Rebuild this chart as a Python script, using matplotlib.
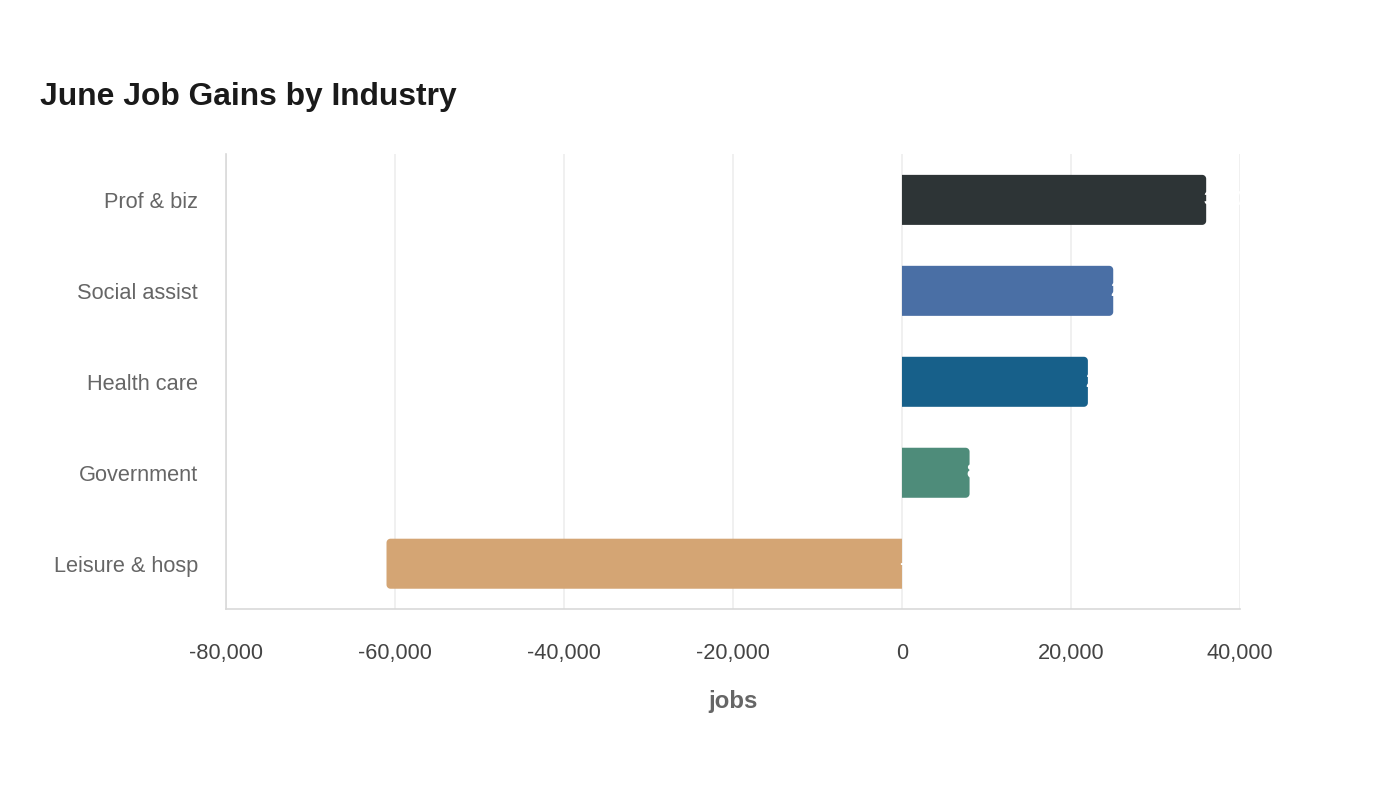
import matplotlib
matplotlib.use("Agg")
import numpy as np
import matplotlib.pyplot as plt
from matplotlib.patches import Polygon
from matplotlib.ticker import FuncFormatter

plt.rcParams['font.family'] = ['Liberation Sans', 'DejaVu Sans']

# 数据
industries = ["Prof & biz", "Social assist", "Health care", "Government", "Leisure & hosp"]
jobs = [36000, 25000, 22000, 8000, -61000]
colors = ["#2d3436", "#4a6fa5", "#17608a", "#4e8c7a", "#d4a574"]
x_ticks = [-80000, -60000, -40000, -20000, 0, 20000, 40000]

fig = plt.figure(figsize=(14, 8), dpi=100)
ax_pos = [0.1614, 0.2385, 0.7243, 0.5685]
ax = fig.add_axes(ax_pos)

ax.set_xlim(-80000, 40000)
ax.set_ylim(-0.5, len(industries) - 0.5)

# 像素 -> 数据单位 (圆角)
px_x = 120000 / (ax_pos[2] * 1400)
px_y = len(industries) / (ax_pos[3] * 800)
r = 4
bar_h = 0.55


def bar_shape(v, y):
    # 只在外端画圆角
    rx, ry = r * px_x, r * px_y
    y0, y1 = y - bar_h / 2, y + bar_h / 2
    t = np.linspace(0, np.pi / 2, 10)
    if v >= 0:
        cx = v - rx
        top = [(cx + rx * np.sin(a), y1 - ry + ry * np.cos(a)) for a in t]
        bot = [(cx + rx * np.cos(a), y0 + ry - ry * np.sin(a)) for a in t]
        return [(0, y0), (0, y1)] + top + bot
    cx = v + rx
    top = [(cx - rx * np.sin(a), y1 - ry + ry * np.cos(a)) for a in t]
    bot = [(cx - rx * np.cos(a), y0 + ry - ry * np.sin(a)) for a in t]
    return [(0, y0), (0, y1)] + top + bot


for i, (name, v, c) in enumerate(zip(industries, jobs, colors)):
    y = len(industries) - 1 - i
    ax.add_patch(Polygon(bar_shape(v, y), closed=True, facecolor=c, edgecolor="none", zorder=3))
    ax.annotate(f"{v:,}", xy=(max(v, 0), y), xytext=(-2, 0), textcoords="offset points",
                ha="left", va="center", color="white", fontsize=15, fontweight="bold", zorder=4)

ax.set_yticks(range(len(industries)))
ax.set_yticklabels(industries[::-1])
ax.set_xticks(x_ticks)
ax.xaxis.set_major_formatter(FuncFormatter(lambda v, p: f"{int(v):,}"))

ax.tick_params(axis="both", length=0, labelsize=15.7)
ax.tick_params(axis="y", colors="#666666", pad=20)
ax.tick_params(axis="x", colors="#444444", pad=24)
ax.grid(axis="x", color="#eeeeee", linewidth=1.2, zorder=0)
ax.set_axisbelow(True)
for s in ["top", "right"]:
    ax.spines[s].set_visible(False)
for s in ["left", "bottom"]:
    ax.spines[s].set_color("#d9d9d9")
    ax.spines[s].set_linewidth(1.2)

ax.set_xlabel("jobs", fontsize=17.3, fontweight="bold", color="#666666", labelpad=19)

fig.text(40 / 1400, 1 - 97 / 800, "June Job Gains by Industry", fontsize=22.9, fontweight="bold",
         color="#1a1a1a", ha="left", va="center")

fig.savefig("out.png", dpi=100, facecolor="white")
